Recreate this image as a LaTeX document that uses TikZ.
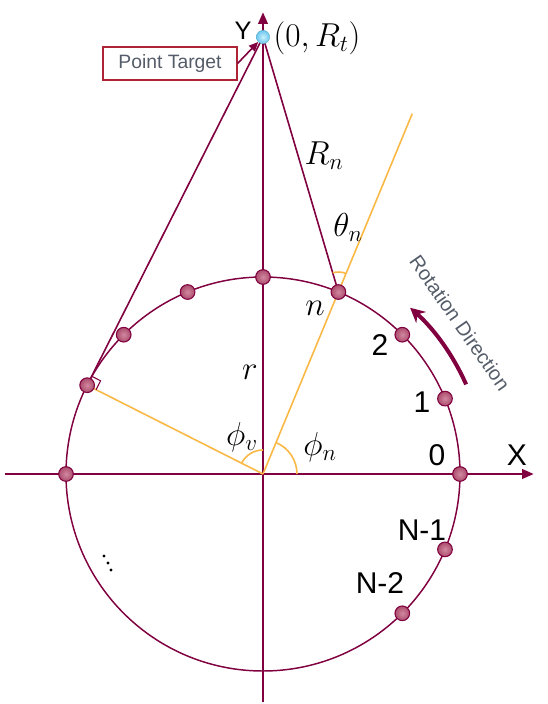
\documentclass[tikz,border=0pt]{standalone}
\usepackage{fontspec}
\setmainfont{Liberation Sans}
\usetikzlibrary{arrows.meta,calc}
\definecolor{maroon}{RGB}{128,0,64}
\definecolor{orng}{RGB}{250,185,70}
\definecolor{dotfill}{RGB}{190,85,120}
\definecolor{cyanball}{RGB}{120,220,240}
\definecolor{boxred}{RGB}{175,35,55}
\definecolor{txtgray}{RGB}{85,92,105}
\begin{document}
\begin{tikzpicture}[x=0.75pt,y=0.75pt,
  axis/.style={draw=maroon,line width=2.2pt,-{Triangle[length=9pt,width=7pt]}},
  ray/.style={draw=maroon,line width=1.2pt},
  oline/.style={draw=orng,line width=1.2pt},
  circ/.style={draw=maroon,line width=1.1pt},
  dot/.style={circle,draw=maroon,line width=0.8pt,inner color=dotfill!70!white,outer color=dotfill!90!black,minimum size=11pt,inner sep=0pt},
  tball/.style={circle,draw=cyanball!80!black,line width=0.3pt,inner color=cyanball!40,outer color=cyanball!90!blue,minimum size=10pt,inner sep=0pt},
  lab/.style={font=\fontsize{22.5}{26}\selectfont,inner sep=0pt},
  mlab/.style={font=\fontsize{23.5}{28}\selectfont,inner sep=0pt},
]
\useasboundingbox (-263,-230) rectangle (285,474);
\pgfmathsetmacro\tang{90+acos(197/437)}
% coordinates
\coordinate (O) at (0,0);
\coordinate (tgtc) at (0,437);
\coordinate (Tc) at (\tang:197);
\coordinate (Nc) at (67.5:197);
\coordinate (oe) at (67.5:390);
\coordinate (xs) at (-258,0);
\coordinate (xe) at (271,0);
\coordinate (ys) at (0,-228);
\coordinate (ye) at (0,462);
% circle
\draw[circ] (O) circle[radius=197];
% axes
\draw[axis] (xs) -- (xe);
\draw[axis] (ys) -- (ye);
% orange lines
\draw[oline] (O) -- (oe);
\draw[oline] (O) -- (Tc);
% rays from target
\draw[ray] (tgtc) -- (Tc);
\draw[ray] (tgtc) -- (Nc);
% angle arcs
\draw[oline] (34,0) arc[start angle=0,end angle=67.5,radius=34];
\draw[oline] (0,24) arc[start angle=90,end angle=\tang,radius=24];
\draw[oline] ($(Nc)+(67.5:20)$) arc[start angle=67.5,end angle=106.5,radius=20];
% right angle mark
\draw[maroon,line width=0.8pt] ($(Tc)+(\tang-180:10)$) -- ++(\tang-90:10) -- ($(Tc)+(\tang-90:10)$);
% dots
\foreach \a/\n in {0/d0,22.5/d1,45/d2,90/dtop,112.5/d5,135/d6,180/d8,-22.5/dm1,-45/dm2}
  \node[dot] (\n) at (\a:197) {};
\node[dot] (dn) at (Nc) {};
\node[dot] (dt) at (Tc) {};
\node[tball] (tgt) at (tgtc) {};
% point target box
\node[draw=boxred,line width=1.3pt,minimum width=100pt,minimum height=24.5pt,inner sep=0pt,
      text=txtgray,font=\fontsize{14.5}{16}\selectfont] (ptbox) at (-93,410.5) {Point Target};
\draw[maroon,line width=1.2pt,-{Triangle[length=7pt,width=6pt]}] (ptbox.east) -- (tgt);
% labels
\node[font=\fontsize{19}{22}\selectfont,inner sep=0pt] (ylab) at (-20,443) {Y};
\node[mlab] (rt) at (54,436) {$(0,R_t)$};
\node[lab] (xlab) at (254,19) {X};
\node[mlab] (rn) at (61,318) {$R_n$};
\node[mlab] (th) at (85,247) {$\theta_n$};
\node[mlab] (nl) at (52,166) {$n$};
\node[mlab] (rl) at (-13,102) {$r$};
\node[mlab] (pv) at (-21,37) {$\phi_v$};
\node[mlab] (pn) at (57,27) {$\phi_n$};
\node[lab] (l2) at (117,129) {2};
\node[lab] (l1) at (159,72) {1};
\node[lab] (l0) at (174,19) {0};
\node[lab] (lm1) at (159,-56) {N-1};
\node[lab] (lm2) at (117,-109) {N-2};
% rotation direction
\draw[maroon,line width=3pt,-{Stealth[length=11pt,width=11pt]}] (23.8:222) arc[start angle=23.8,end angle=48.5,radius=222];
\node[text=txtgray,font=\fontsize{15}{17}\selectfont,rotate=-55,inner sep=0pt] (rot) at (197,151) {Rotation Direction};
% vertical ellipsis
\foreach \p in {(-159,-82),(-155,-89),(-152,-96)}
  \fill \p circle[radius=1.6];
\end{tikzpicture}
\end{document}
